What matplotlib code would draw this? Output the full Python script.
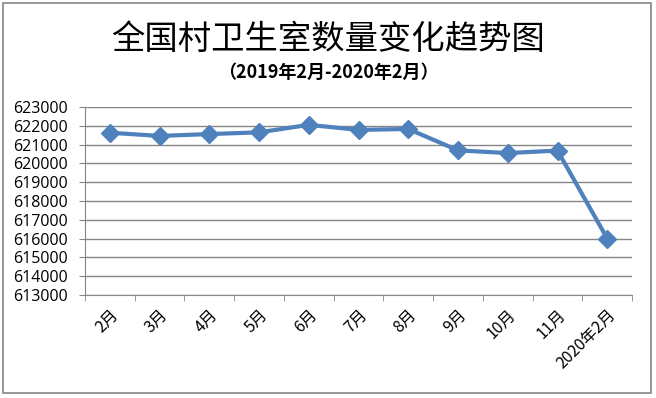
import matplotlib
matplotlib.use("Agg")
import matplotlib.pyplot as plt
import numpy as np
from matplotlib.patches import Rectangle

plt.rcParams['font.family'] = ['Noto Sans CJK SC', 'DejaVu Sans']

months = ["2月", "3月", "4月", "5月", "6月", "7月", "8月", "9月", "10月", "11月", "2020年2月"]
counts = [621630, 621460, 621560, 621650, 622050, 621780, 621830, 620690, 620550, 620680, 616000]
y_ticks = list(range(613000, 624000, 1000))

fig = plt.figure(figsize=(6.56, 3.98), dpi=100)
fig.patches.append(Rectangle((0.004, 0.012), 0.989, 0.98, transform=fig.transFigure,
                             fill=False, edgecolor="#868686", linewidth=1.2))

ax = fig.add_axes([0.1296, 0.2588, 0.834, 0.4724])
x = np.arange(len(months))
ax.plot(x, counts, color="#4F81BD", linewidth=3, marker="D", markersize=9,
        markerfacecolor="#4F81BD", markeredgecolor="#4F81BD")

ax.set_xlim(-0.5, len(months) - 0.5)
ax.set_ylim(613000, 623000)
ax.set_yticks(y_ticks)
ax.set_yticklabels([str(v) for v in y_ticks], fontsize=11.5, family=["Open Sans", "DejaVu Sans"])
ax.yaxis.grid(True, color="#868686", linewidth=1)
ax.set_axisbelow(True)

ax.set_xticks(x)
ax.set_xticklabels(months, rotation=45, ha="right", va="top", rotation_mode="anchor", fontsize=11.5)
ax.tick_params(axis="x", which="major", length=0, pad=8)
ax.set_xticks(np.arange(-0.5, len(months), 1), minor=True)
ax.tick_params(axis="x", which="minor", length=4, color="#868686", direction="out")
ax.tick_params(axis="y", length=4, color="#868686", pad=8)

for side in ["top", "right"]:
    ax.spines[side].set_visible(False)
for side in ["left", "bottom"]:
    ax.spines[side].set_color("#868686")

fig.text(0.5, 0.9, "全国村卫生室数量变化趋势图", ha="center", va="center", fontsize=24)
fig.text(0.5, 0.818, "（2019年2月-2020年2月）", ha="center", va="center", fontsize=13,
         fontweight="bold")

fig.savefig("out.png", dpi=100)
